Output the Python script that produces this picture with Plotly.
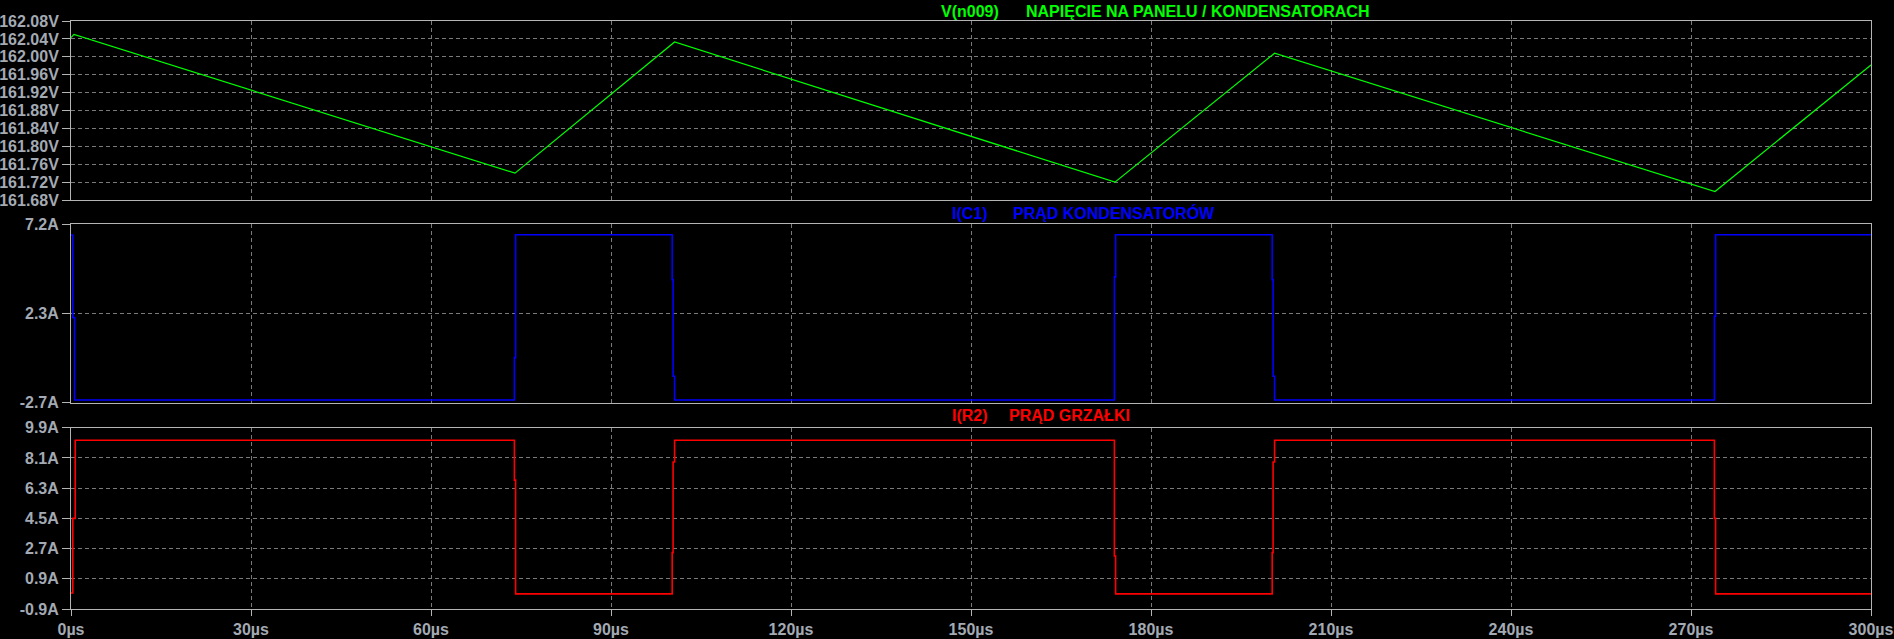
import plotly.graph_objects as go
from plotly.subplots import make_subplots

# ---- data ----
t_v = [0, 0.5, 74.0, 100.6, 174.0, 200.6, 274.0, 300]
v_n009 = [162.043, 162.050, 161.740, 162.033, 161.720, 162.008, 161.699, 161.982]

t_c1 = [0, 0.3, 0.6, 73.9, 74.1, 100.2, 100.35, 100.6, 173.9, 174.1, 200.2, 200.35, 200.6, 273.9, 274.1, 300]
i_c1 = [6.61, 2.02, -2.55, -0.2, 6.62, 4.13, -1.23, -2.55, 4.28, 6.62, 4.13, -1.23, -2.55, 2.1, 6.62, 6.62]

t_r2 = [0, 0.3, 0.7, 73.9, 74.1, 100.2, 100.35, 100.6, 173.9, 174.1, 200.2, 200.35, 200.6, 273.9, 274.1, 300]
i_r2 = [0.05, 4.5, 9.15, 6.78, 0.0, 2.46, 7.86, 9.15, 2.26, 0.0, 2.46, 7.86, 9.15, 4.5, 0.0, 0.0]

x_ticks = [0, 30, 60, 90, 120, 150, 180, 210, 240, 270, 300]
x_labels = [f"{v}µs" for v in x_ticks]

v_ticks = [161.68, 161.72, 161.76, 161.80, 161.84, 161.88, 161.92, 161.96, 162.00, 162.04, 162.08]
v_labels = [f"{v:.2f}V" for v in v_ticks]

c1_ticks = [-2.7, 2.25, 7.2]
c1_labels = ["-2.7A", "2.3A", "7.2A"]

r2_ticks = [-0.9, 0.9, 2.7, 4.5, 6.3, 8.1, 9.9]
r2_labels = ["-0.9A", "0.9A", "2.7A", "4.5A", "6.3A", "8.1A", "9.9A"]

# ---- figure ----
W, H = 1894, 639
PLOT_L, PLOT_R, PLOT_T, PLOT_B = 71, 1871, 21, 609
ML, MT = PLOT_L, PLOT_T
MR, MB = W - PLOT_R, H - PLOT_B
PH = PLOT_B - PLOT_T
PW = PLOT_R - PLOT_L


def py(p):  # page pixel y -> paper y
    return (PLOT_B - p) / PH


def px(p):  # page pixel x -> paper x
    return (p - PLOT_L) / PW


fig = make_subplots(rows=3, cols=1, shared_xaxes=True, vertical_spacing=0.04)

fig.add_trace(go.Scatter(x=t_v, y=v_n009, mode="lines", line=dict(color="#00ff00", width=1.2),
                         showlegend=False), row=1, col=1)
fig.add_trace(go.Scatter(x=t_c1, y=i_c1, mode="lines", line=dict(color="#0000ff", width=1.6, shape="hv"),
                         showlegend=False), row=2, col=1)
fig.add_trace(go.Scatter(x=t_r2, y=i_r2, mode="lines", line=dict(color="#ff0000", width=1.6, shape="hv"),
                         showlegend=False), row=3, col=1)

tick_font = dict(family="Liberation Sans, Arial, sans-serif", size=16, color="#a3aab3", weight="bold")
border = "#b4b4b4"
grid = "#7a7a7a"

common_x = dict(range=[0, 300], tickmode="array", tickvals=x_ticks, ticktext=x_labels,
                showgrid=True, gridcolor=grid, griddash="4px,3px", gridwidth=1,
                showline=True, linecolor=border, linewidth=1, mirror=True, automargin=False,
                zeroline=False, tickfont=tick_font, tickcolor=border)

for r in (1, 2, 3):
    fig.update_xaxes(common_x, row=r, col=1)
fig.update_xaxes(showticklabels=False, ticks="", row=1, col=1)
fig.update_xaxes(showticklabels=False, ticks="", row=2, col=1)
fig.update_xaxes(showticklabels=True, ticks="outside", ticklen=6, row=3, col=1)

common_y = dict(showgrid=True, gridcolor=grid, griddash="4px,3px", gridwidth=1,
                showline=True, linecolor=border, linewidth=1, mirror=True, automargin=False,
                zeroline=False, tickfont=tick_font, ticks="outside", ticklen=8, tickcolor=border,
                tickmode="array")
fig.update_yaxes(common_y, range=[161.68, 162.08], tickvals=v_ticks, ticktext=v_labels,
                 domain=[py(200), py(21)], row=1, col=1)
fig.update_yaxes(common_y, range=[-2.7, 7.2], tickvals=c1_ticks, ticktext=c1_labels,
                 domain=[py(402.7), py(224.3)], row=2, col=1)
fig.update_yaxes(common_y, range=[-0.9, 9.9], tickvals=r2_ticks, ticktext=r2_labels,
                 domain=[py(609), py(427.7)], row=3, col=1)

title_font = dict(family="Liberation Sans, Arial, sans-serif", size=16, weight="bold")
annots = [
    ("V(n009)", 939.9, 11.5, "#00ff00"),
    ("NAPIĘCIE NA PANELU / KONDENSATORACH", 1025.3, 11.5, "#00ff00"),
    ("I(C1)", 950.7, 213.3, "#0000ff"),
    ("PRĄD KONDENSATORÓW", 1011.7, 213.3, "#0000ff"),
    ("I(R2)", 951.0, 415.7, "#ff0000"),
    ("PRĄD GRZAŁKI", 1008.3, 415.7, "#ff0000"),
]
for txt, xx, yy, col in annots:
    fig.add_annotation(text=txt, x=px(xx), y=py(yy), xref="paper", yref="paper",
                       xanchor="left", yanchor="middle", showarrow=False,
                       font=dict(title_font, color=col), borderpad=0)

fig.update_layout(width=W, height=H, margin=dict(l=ML, r=MR, t=MT, b=MB, autoexpand=False),
                  paper_bgcolor="#000000", plot_bgcolor="#000000", showlegend=False)

fig.write_html("out.html", config={"displayModeBar": False},
               post_script="document.body.style.margin='0px';document.body.style.background='#000';")
